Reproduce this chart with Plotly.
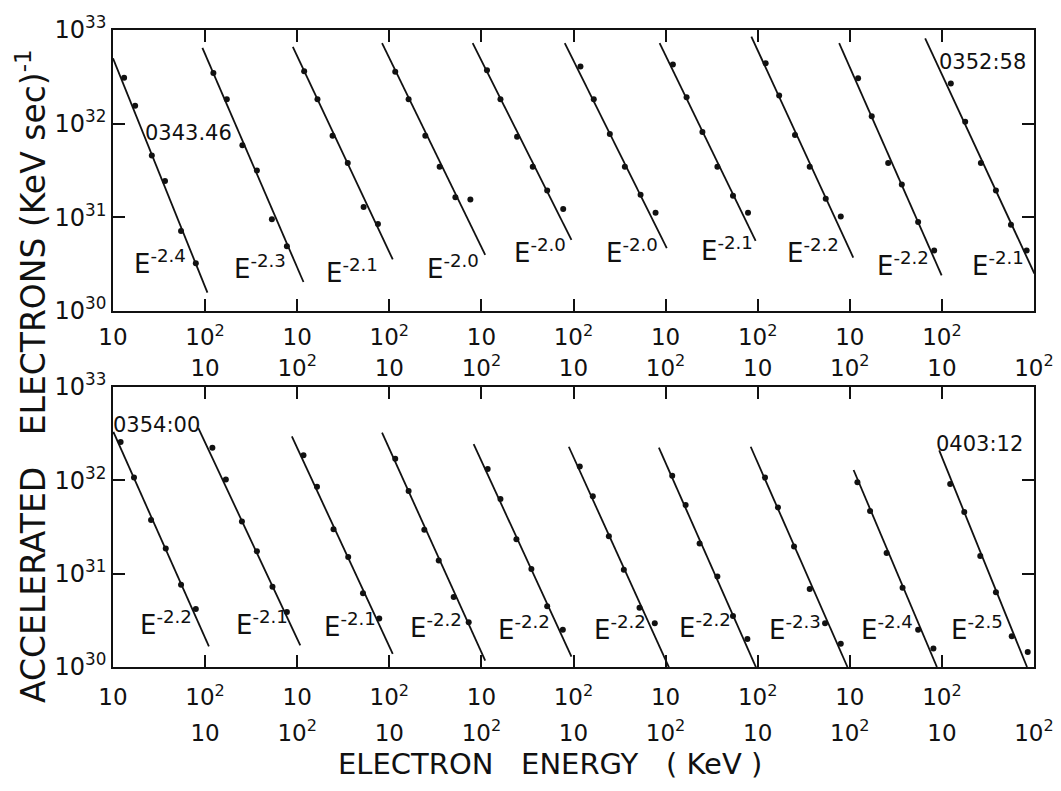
import plotly.graph_objects as go

# ---------------- data ----------------
# energies in keV, spectra in electrons (keV s)^-1; each spectrum is shifted one decade to the right
top_times = ["0343.46", "0352:58"]
bottom_times = ["0354:00", "0403:12"]

top_index = ["-2.4", "-2.3", "-2.1", "-2.0", "-2.0", "-2.0", "-2.1", "-2.2", "-2.2", "-2.1"]
bottom_index = ["-2.2", "-2.1", "-2.1", "-2.2", "-2.2", "-2.2", "-2.2", "-2.3", "-2.4", "-2.5"]

top_energy = [
    [13.2, 17.4, 26.4, 36.7, 54.8, 79.3],
    [12.3, 17.2, 25.4, 36.5, 53.1, 77.3],
    [11.9, 16.6, 24.2, 35.4, 52.6, 75.3],
    [11.6, 16.2, 24.6, 35.2, 52.2, 75.9],
    [11.5, 16.1, 24.4, 36.1, 51.8, 77.3],
    [11.9, 16.6, 24.8, 36.1, 53.5, 77.8],
    [12.0, 16.9, 25.1, 36.5, 53.9, 78.5],
    [12.2, 17.1, 25.4, 36.7, 54.8, 79.8],
    [12.3, 17.3, 26.1, 36.7, 55.2, 82.4],
    [12.5, 17.9, 26.5, 38.6, 56.2, 83.2],
]
top_flux = [
    [3.09e32, 1.55e32, 4.57e31, 2.45e31, 7.16e30, 3.24e30],
    [3.47e32, 1.82e32, 5.89e31, 3.16e31, 9.55e30, 4.90e30],
    [3.63e32, 1.82e32, 7.41e31, 3.80e31, 1.29e31, 8.51e30],
    [3.59e32, 1.82e32, 7.41e31, 3.47e31, 1.64e31, 1.55e31],
    [3.72e32, 1.82e32, 7.24e31, 3.47e31, 1.93e31, 1.23e31],
    [4.07e32, 1.82e32, 7.76e31, 3.47e31, 1.74e31, 1.12e31],
    [4.27e32, 1.91e32, 8.13e31, 3.47e31, 1.70e31, 1.12e31],
    [4.42e32, 2.00e32, 7.59e31, 3.47e31, 1.58e31, 1.02e31],
    [3.05e32, 1.20e32, 3.80e31, 2.24e31, 8.91e30, 4.42e30],
    [2.69e32, 1.05e32, 3.80e31, 1.93e31, 8.32e30, 4.42e30],
]
top_fit_energy = [[10, 106], [9.35, 117], [8.97, 109], [8.34, 110], [8.04, 95],
                  [8.04, 103], [8.61, 95], [8.53, 109], [7.66, 99.3], [6.58, 101]]
top_fit_flux = [[4.99e32, 1.57e30], [6.46e32, 2.04e30], [6.61e32, 3.55e30], [7.24e32, 3.98e30],
                [7.24e32, 5.75e30], [7.24e32, 4.68e30], [7.24e32, 5.62e30], [8.51e32, 3.72e30],
                [7.24e32, 2.40e30], [8.13e32, 2.51e30]]

bottom_energy = [
    [12.1, 16.9, 25.9, 37.4, 54.8, 79.3],
    [12.0, 16.8, 25.1, 36.5, 53.9, 77.3],
    [11.7, 16.4, 24.8, 35.8, 51.8, 77.8],
    [11.6, 16.2, 24.0, 34.4, 50.0, 72.8],
    [11.7, 16.1, 24.0, 34.9, 51.8, 76.6],
    [11.7, 16.2, 24.2, 35.2, 52.1, 76.3],
    [11.8, 16.5, 23.4, 36.5, 53.9, 77.3],
    [12.0, 16.6, 24.8, 36.7, 53.9, 79.8],
    [12.1, 16.6, 25.1, 37.4, 55.2, 80.9],
    [12.3, 17.5, 26.1, 38.6, 57.3, 85.5],
]
bottom_flux = [
    [2.57e32, 1.07e32, 3.76e31, 1.86e31, 7.59e30, 4.17e30],
    [2.24e32, 1.02e32, 3.63e31, 1.74e31, 7.24e30, 3.89e30],
    [1.86e32, 8.51e31, 2.99e31, 1.51e31, 6.17e30, 3.31e30],
    [1.70e32, 7.67e31, 2.95e31, 1.38e31, 5.62e30, 3.02e30],
    [1.32e32, 6.31e31, 2.34e31, 1.12e31, 4.47e30, 2.51e30],
    [1.41e32, 6.76e31, 2.51e31, 1.10e31, 4.32e30, 2.95e30],
    [1.12e32, 5.43e31, 2.11e31, 9.33e30, 3.51e30, 2.00e30],
    [1.07e32, 5.13e31, 1.95e31, 6.84e30, 2.95e30, 1.78e30],
    [9.55e31, 4.68e31, 1.66e31, 7.08e30, 2.51e30, 1.58e30],
    [9.12e31, 4.57e31, 1.55e31, 6.31e30, 2.14e30, 1.45e30],
]
bottom_fit_energy = [[10.1, 110], [8.45, 108], [8.75, 109], [8.34, 110], [8.24, 95],
                     [8.89, 112], [8.45, 97.7], [8.39, 94.4], [11.0, 88.3], [9.35, 84]]
bottom_fit_flux = [[3.31e32, 1.66e30], [3.63e32, 1.70e30], [2.95e32, 1.38e30], [3.24e32, 1.17e30],
                   [2.45e32, 1.29e30], [2.29e32, 9.3e29], [2.24e32, 9.5e29], [2.29e32, 1.0e30],
                   [1.29e32, 1.0e30], [2.09e32, 1.0e30]]

x_tick_values = [10, 100, 1e3, 1e4, 1e5, 1e6, 1e7, 1e8, 1e9, 1e10]
x_tick_text = ["10", "10<sup>2</sup>"] * 5
y_tick_values = [1e30, 1e31, 1e32, 1e33]
y_tick_text = ["10<sup>30</sup>", "10<sup>31</sup>", "10<sup>32</sup>", "10<sup>33</sup>"]

# ---------------- layout / style ----------------
OFF = 8                      # page body margin added by the browser
W, H = 1061 - OFF, 791 - OFF
ML, MT = 113 - OFF, 30 - OFF
MR = W - (1034 - OFF)
MB = H - (667 - OFF)
PW, PH = W - ML - MR, H - MT - MB
FONT = "DejaVu Sans"
INK = "#111111"


def paper(px, py):
    """page pixel -> paper coordinates"""
    return (px - OFF - ML) / PW, (H - MB - (py - OFF)) / PH


top_domain = [paper(0, 311)[1], 1.0]
bottom_domain = [0.0, paper(0, 387)[1]]

fig = go.Figure()
layout = {}

panels = [
    # energies, fluxes, fit E, fit F, y axis, first x-axis number, y domain, label standoffs
    (bottom_energy, bottom_flux, bottom_fit_energy, bottom_fit_flux, "y", 1, bottom_domain, (9, 50)),
    (top_energy, top_flux, top_fit_energy, top_fit_flux, "y2", 11, top_domain, (5, 41)),
]

for energy, flux, fitE, fitF, yname, base, ydom, (so1, so2) in panels:
    ykey = "yaxis" if yname == "y" else "yaxis2"
    main_x = "x" if base == 1 else f"x{base}"
    layout[ykey] = dict(
        type="log", range=[30, 33], domain=ydom, anchor=main_x, automargin=False,
        tickvals=y_tick_values, ticktext=y_tick_text,
        ticks="inside", ticklen=12, tickwidth=1.5, tickcolor=INK,
        showline=True, linecolor=INK, linewidth=1.5, mirror="ticks",
        showgrid=False, zeroline=False,
        tickfont=dict(family=FONT, size=24, color=INK),
    )
    for k in range(10):
        n = base + k
        xname = "x" if n == 1 else f"x{n}"
        xkey = "xaxis" if n == 1 else f"xaxis{n}"
        ax = dict(type="log", range=[1 - k, 11 - k], anchor=yname, automargin=False,
                  showgrid=False, zeroline=False)
        if k == 0:
            ax.update(tickvals=x_tick_values, ticktext=x_tick_text,
                      ticks="inside", ticklen=12, tickwidth=1.5, tickcolor=INK,
                      showline=True, linecolor=INK, linewidth=1.5, mirror="ticks",
                      ticklabelstandoff=so1,
                      tickfont=dict(family=FONT, size=23, color=INK))
        else:
            ax.update(overlaying=main_x)
            if k == 1:
                ax.update(tickvals=x_tick_values, ticktext=x_tick_text, ticks="",
                          showline=False, ticklabelstandoff=so2,
                          tickfont=dict(family=FONT, size=23, color=INK))
            else:
                ax.update(visible=False)
        layout[xkey] = ax

        fig.add_trace(go.Scatter(x=fitE[k], y=fitF[k], mode="lines", xaxis=xname, yaxis=yname,
                                 line=dict(color=INK, width=1.8), showlegend=False,
                                 hoverinfo="skip"))
        fig.add_trace(go.Scatter(x=energy[k], y=flux[k], mode="markers", xaxis=xname, yaxis=yname,
                                 marker=dict(color=INK, size=6), showlegend=False))

# text labels (positions in page pixels)
top_index_pos = [(160, 262), (260, 267), (352, 271), (453, 267), (540, 251),
                 (632, 251), (727, 249), (813, 251), (903, 264), (998, 264)]
bottom_index_pos = [(166, 623), (262, 623), (350, 625), (436, 626), (524, 628),
                    (620, 628), (705, 626), (795, 628), (887, 628), (977, 628)]
time_pos = {"0343.46": (188, 133), "0352:58": (982, 62), "0354:00": (156, 425), "0403:12": (979, 444)}

ann = []
for labels, pos in ((top_index, top_index_pos), (bottom_index, bottom_index_pos)):
    for lab, (px, py) in zip(labels, pos):
        x, y = paper(px, py)
        ann.append(dict(x=x, y=y, xref="paper", yref="paper", showarrow=False,
                        xanchor="center", yanchor="middle",
                        text=f"E<sup>{lab}</sup>", font=dict(family=FONT, size=26, color=INK)))
for lab in top_times + bottom_times:
    x, y = paper(*time_pos[lab])
    ann.append(dict(x=x, y=y, xref="paper", yref="paper", showarrow=False,
                    xanchor="center", yanchor="middle", text=lab,
                    font=dict(family=FONT, size=21, color=INK)))

x, y = paper(550, 764)
ann.append(dict(x=x, y=y, xref="paper", yref="paper", showarrow=False,
                xanchor="center", yanchor="middle",
                text="ELECTRON   ENERGY   ( KeV )", font=dict(family=FONT, size=29, color=INK)))
x, y = paper(31, 376)
ann.append(dict(x=x, y=y, xref="paper", yref="paper", showarrow=False, textangle=-90,
                xanchor="center", yanchor="middle",
                text="ACCELERATED   ELECTRONS (KeV sec)<sup>-1</sup>",
                font=dict(family=FONT, size=33, color=INK)))

fig.update_layout(
    width=W, height=H,
    margin=dict(l=ML, r=MR, t=MT, b=MB, autoexpand=False),
    paper_bgcolor="white", plot_bgcolor="white",
    showlegend=False,
    annotations=ann,
    **layout,
)

fig.write_html("out.html")
